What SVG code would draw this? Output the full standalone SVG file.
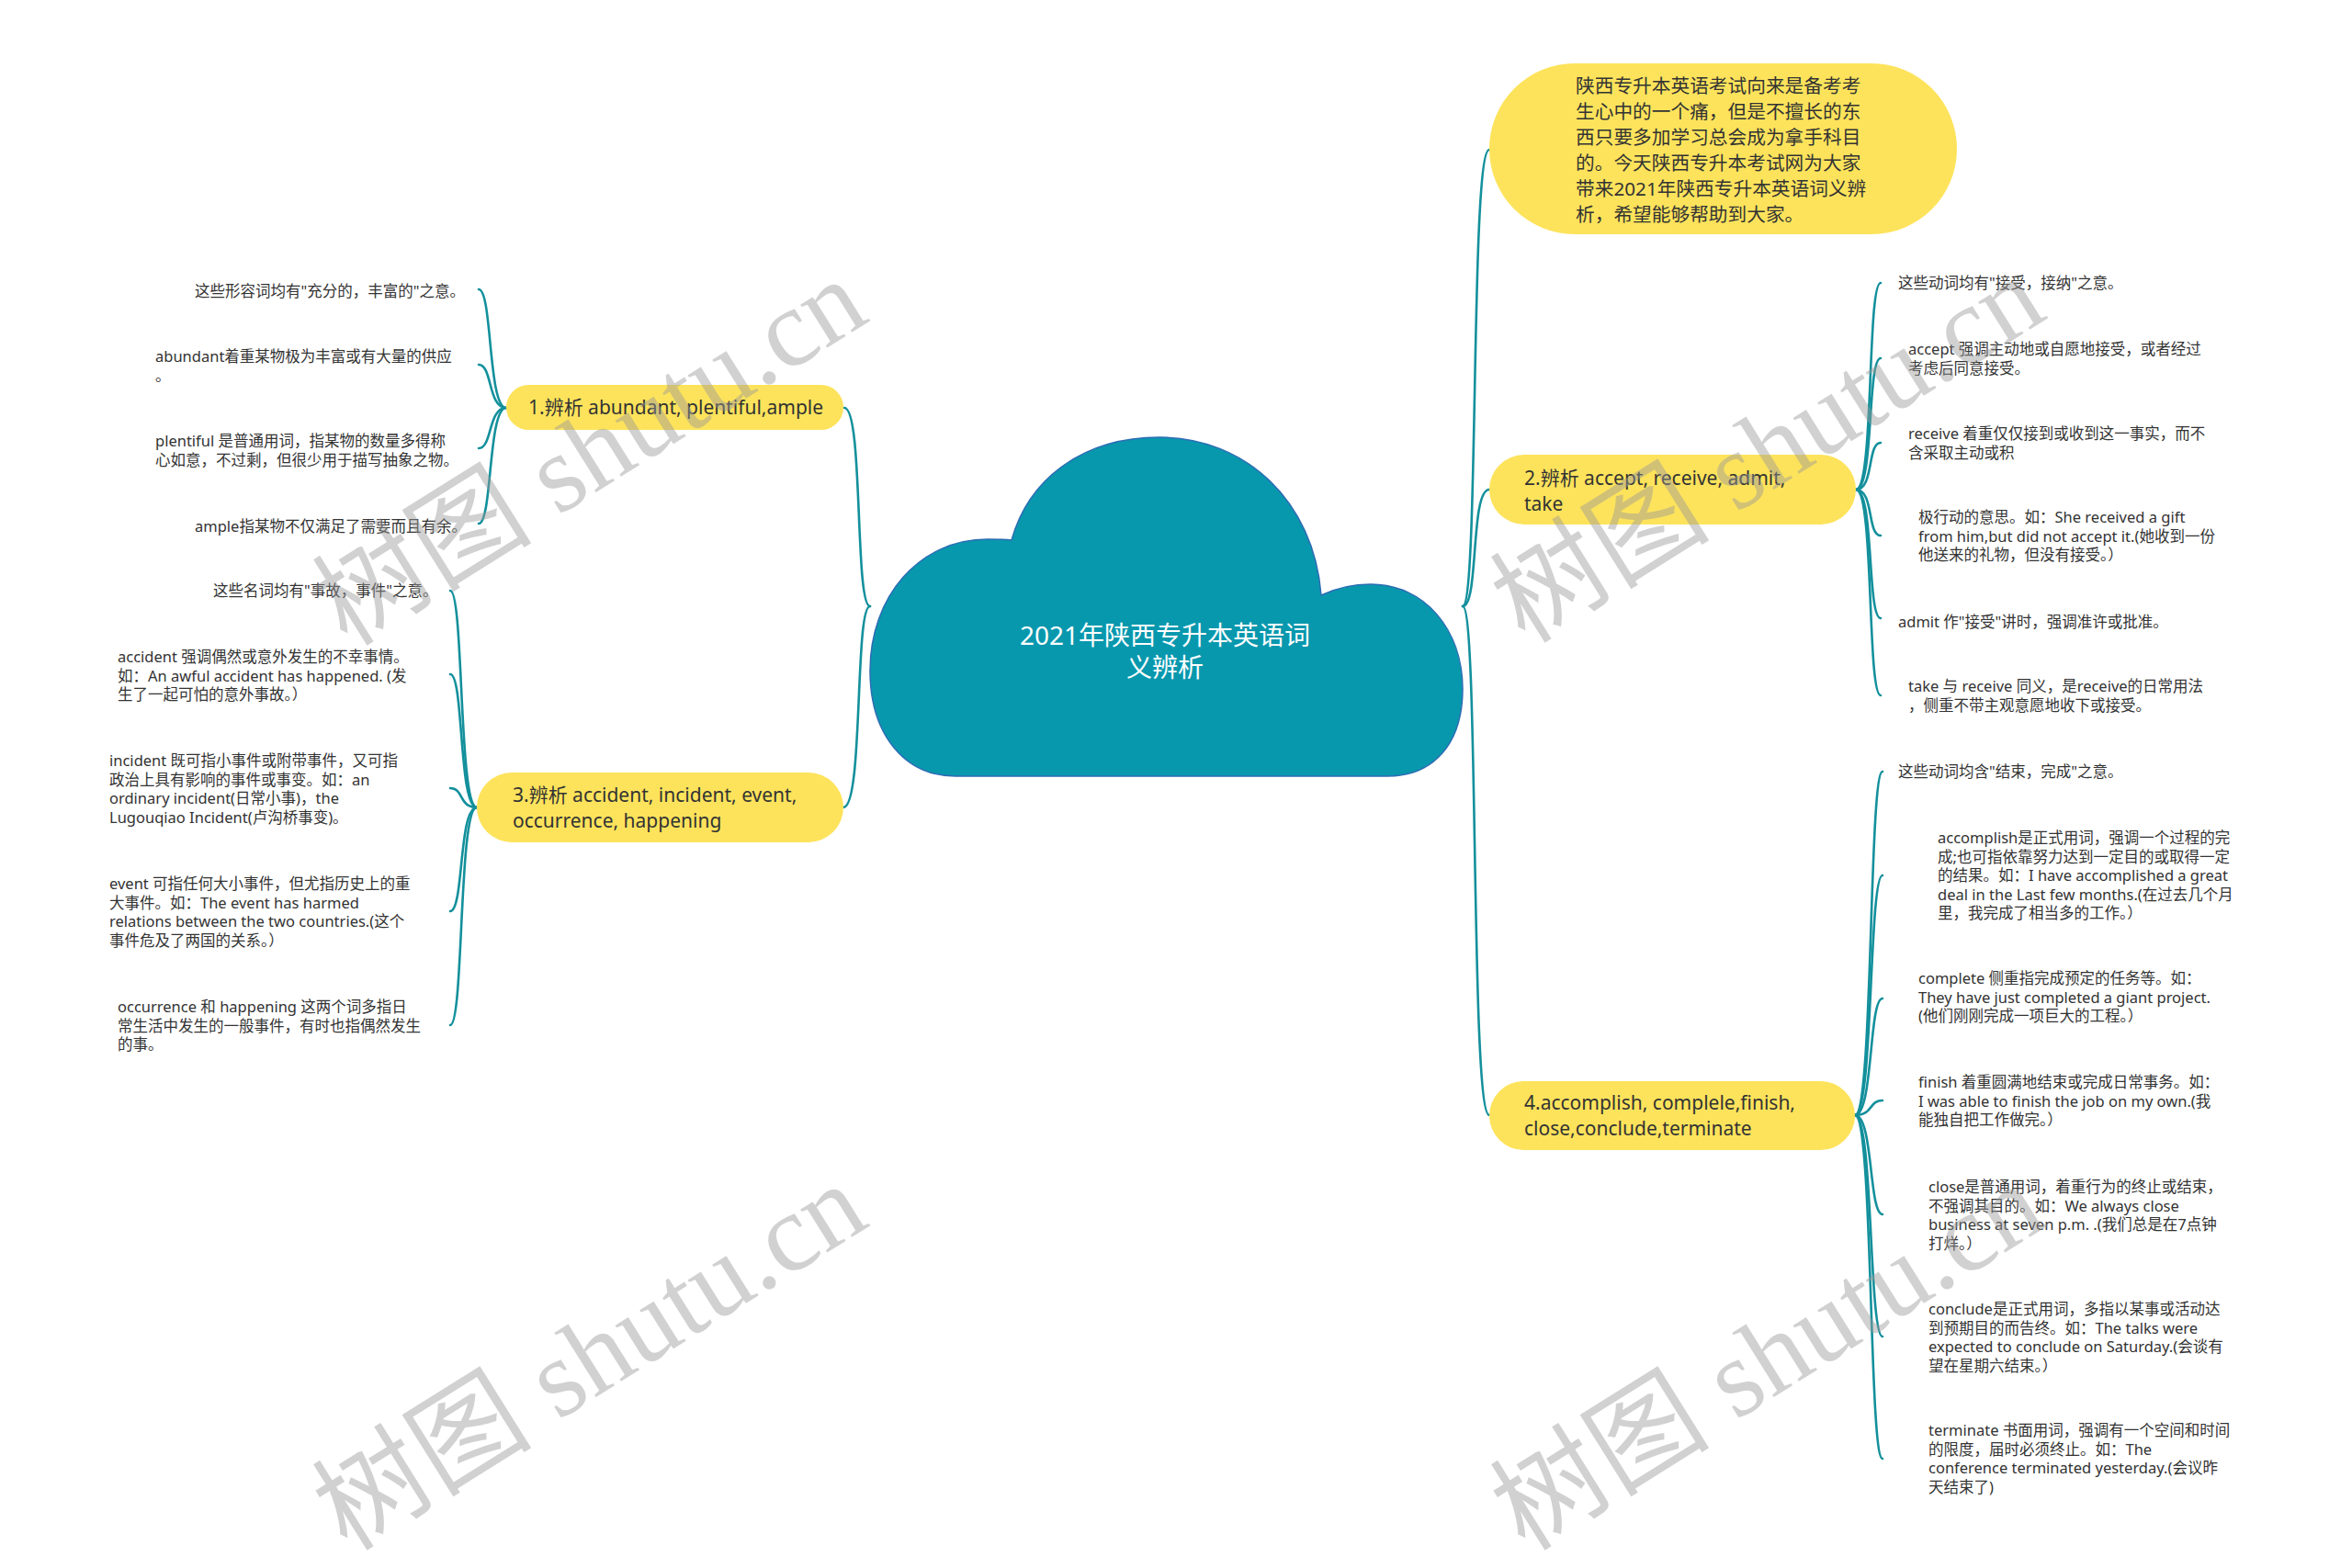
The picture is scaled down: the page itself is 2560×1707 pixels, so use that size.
<svg xmlns="http://www.w3.org/2000/svg" width="2560" height="1707" viewBox="0 0 2560 1707">
<style>
.bg{fill:#ffffff}
.pill{fill:#FDE35B}
.cloud{fill:#0898AE;stroke:#2C6DB3;stroke-width:1.5}
.ln{fill:none;stroke:#13909C;stroke-width:2.6;stroke-linecap:round}
.leaf{font-family:'Noto Sans','Noto Sans CJK SC',sans-serif;font-size:16.5px;fill:#333333}
.topic{font-family:'Noto Sans','Noto Sans CJK SC',sans-serif;font-size:21px;fill:#333333}
.intro{font-family:'Noto Sans','Noto Sans CJK SC',sans-serif;font-size:20.7px;fill:#333333}
.center{font-family:'Noto Sans','Noto Sans CJK SC',sans-serif;font-size:28px;fill:#ffffff}
.wm{font-family:'Liberation Serif','Noto Sans CJK SC',serif;font-size:120px;fill:#9a9a9a;opacity:0.45}
</style>
<rect class="bg" x="0" y="0" width="2560" height="1707"/>

<g id="connectors">
  <path class="ln" d="M947,660 C930,660 940,444 919,444"/>
  <path class="ln" d="M947,660 C930,660 940,879 918,879"/>
  <path class="ln" d="M1592,660 C1610,660 1600,163 1621,163"/>
  <path class="ln" d="M1592,660 C1610,660 1600,533 1621,533"/>
  <path class="ln" d="M1592,660 C1610,660 1600,1214 1621,1214"/>

  <path class="ln" d="M551,444 C531,444 536,315 521,315"/>
  <path class="ln" d="M551,444 C531,444 536,397 521,397"/>
  <path class="ln" d="M551,444 C531,444 536,488 521,488"/>
  <path class="ln" d="M551,444 C531,444 536,570 521,570"/>

  <path class="ln" d="M519,879 C499,879 505,643 490,643"/>
  <path class="ln" d="M519,879 C499,879 505,734 490,734"/>
  <path class="ln" d="M519,879 C499,879 505,858 490,858"/>
  <path class="ln" d="M519,879 C499,879 505,992 490,992"/>
  <path class="ln" d="M519,879 C499,879 505,1116 490,1116"/>

  <path class="ln" d="M2020,533 C2040,533 2032,308 2047,308"/>
  <path class="ln" d="M2020,533 C2040,533 2032,390 2047,390"/>
  <path class="ln" d="M2020,533 C2040,533 2032,482 2047,482"/>
  <path class="ln" d="M2020,533 C2040,533 2032,583 2047,583"/>
  <path class="ln" d="M2020,533 C2040,533 2032,673 2047,673"/>
  <path class="ln" d="M2020,533 C2040,533 2032,757 2047,757"/>

  <path class="ln" d="M2019,1214 C2039,1214 2034,840 2049,840"/>
  <path class="ln" d="M2019,1214 C2039,1214 2034,953 2049,953"/>
  <path class="ln" d="M2019,1214 C2039,1214 2034,1087 2049,1087"/>
  <path class="ln" d="M2019,1214 C2039,1214 2034,1198 2049,1198"/>
  <path class="ln" d="M2019,1214 C2039,1214 2034,1322 2049,1322"/>
  <path class="ln" d="M2019,1214 C2039,1214 2034,1455 2049,1455"/>
  <path class="ln" d="M2019,1214 C2039,1214 2034,1588 2049,1588"/>
</g>

<g id="center">
  <path class="cloud" d="M1101,588 C1120,520 1180,476 1262,476 C1355,476 1430,545 1438,648 C1455,640 1475,636 1492,636 C1550,636 1592,685 1592,750 C1592,810 1560,845 1510,845 L1040,845 C985,845 947,800 947,730 C947,650 1000,587 1075,587 C1085,587 1093,587 1101,588 Z"/>
  <text class="center" text-anchor="middle"><tspan x="1268" y="702">2021年陕西专升本英语词</tspan><tspan x="1268" y="737">义辨析</tspan></text>
</g>

<g id="intro">
  <rect class="pill" x="1621" y="69" width="509" height="186" rx="93"/>
  <text class="intro"><tspan x="1715" y="101">陕西专升本英语考试向来是备考考</tspan><tspan x="1715" y="129">生心中的一个痛，但是不擅长的东</tspan><tspan x="1715" y="157">西只要多加学习总会成为拿手科目</tspan><tspan x="1715" y="185">的。今天陕西专升本考试网为大家</tspan><tspan x="1715" y="213">带来2021年陕西专升本英语词义辨</tspan><tspan x="1715" y="241">析，希望能够帮助到大家。</tspan></text>
</g>

<g id="node1">
  <rect class="pill" x="551" y="419" width="367" height="49" rx="24.5"/>
  <text class="topic" x="575" y="451">1.辨析 abundant, plentiful,ample</text>
</g>
<g id="node2">
  <rect class="pill" x="1621" y="495" width="399" height="76" rx="38"/>
  <text class="topic"><tspan x="1659" y="528">2.辨析 accept, receive, admit,</tspan><tspan x="1659" y="556">take</tspan></text>
</g>
<g id="node3">
  <rect class="pill" x="519" y="841" width="399" height="76" rx="38"/>
  <text class="topic"><tspan x="558" y="873">3.辨析 accident, incident, event,</tspan><tspan x="558" y="901">occurrence, happening</tspan></text>
</g>
<g id="node4">
  <rect class="pill" x="1621" y="1177" width="398" height="75" rx="37.5"/>
  <text class="topic"><tspan x="1659" y="1208">4.accomplish, complele,finish,</tspan><tspan x="1659" y="1236">close,conclude,terminate</tspan></text>
</g>

<g id="leaf1a"><text class="leaf" x="212" y="323">这些形容词均有"充分的，丰富的"之意。</text></g>
<g id="leaf1b"><text class="leaf"><tspan x="169" y="394">abundant着重某物极为丰富或有大量的供应</tspan><tspan x="169" y="414.6">。</tspan></text></g>
<g id="leaf1c"><text class="leaf"><tspan x="169" y="486">plentiful 是普通用词，指某物的数量多得称</tspan><tspan x="169" y="506.6">心如意，不过剩，但很少用于描写抽象之物。</tspan></text></g>
<g id="leaf1d"><text class="leaf" x="212" y="579">ample指某物不仅满足了需要而且有余。</text></g>

<g id="leaf3a"><text class="leaf" x="232" y="649">这些名词均有"事故，事件"之意。</text></g>
<g id="leaf3b"><text class="leaf"><tspan x="128" y="721">accident 强调偶然或意外发生的不幸事情。</tspan><tspan x="128" y="741.6">如：An awful accident has happened. (发</tspan><tspan x="128" y="762.2">生了一起可怕的意外事故。）</tspan></text></g>
<g id="leaf3c"><text class="leaf"><tspan x="119" y="834">incident 既可指小事件或附带事件，又可指</tspan><tspan x="119" y="854.6">政治上具有影响的事件或事变。如：an</tspan><tspan x="119" y="875.2">ordinary incident(日常小事)，the</tspan><tspan x="119" y="895.8">Lugouqiao Incident(卢沟桥事变)。</tspan></text></g>
<g id="leaf3d"><text class="leaf"><tspan x="119" y="968">event 可指任何大小事件，但尤指历史上的重</tspan><tspan x="119" y="988.6">大事件。如：The event has harmed</tspan><tspan x="119" y="1009.2">relations between the two countries.(这个</tspan><tspan x="119" y="1029.8">事件危及了两国的关系。）</tspan></text></g>
<g id="leaf3e"><text class="leaf"><tspan x="128" y="1102">occurrence 和 happening 这两个词多指日</tspan><tspan x="128" y="1122.6">常生活中发生的一般事件，有时也指偶然发生</tspan><tspan x="128" y="1143.2">的事。</tspan></text></g>

<g id="leaf2a"><text class="leaf" x="2066" y="314">这些动词均有"接受，接纳"之意。</text></g>
<g id="leaf2b"><text class="leaf"><tspan x="2077" y="386">accept 强调主动地或自愿地接受，或者经过</tspan><tspan x="2077" y="406.6">考虑后同意接受。</tspan></text></g>
<g id="leaf2c"><text class="leaf"><tspan x="2077" y="478">receive 着重仅仅接到或收到这一事实，而不</tspan><tspan x="2077" y="498.6">含采取主动或积</tspan></text></g>
<g id="leaf2d"><text class="leaf"><tspan x="2088" y="569">极行动的意思。如：She received a gift</tspan><tspan x="2088" y="589.6">from him,but did not accept it.(她收到一份</tspan><tspan x="2088" y="610.2">他送来的礼物，但没有接受。）</tspan></text></g>
<g id="leaf2e"><text class="leaf" x="2066" y="683">admit 作"接受"讲时，强调准许或批准。</text></g>
<g id="leaf2f"><text class="leaf"><tspan x="2077" y="753">take 与 receive 同义，是receive的日常用法</tspan><tspan x="2077" y="773.6">，侧重不带主观意愿地收下或接受。</tspan></text></g>

<g id="leaf4a"><text class="leaf" x="2066" y="846">这些动词均含"结束，完成"之意。</text></g>
<g id="leaf4b"><text class="leaf"><tspan x="2109" y="918">accomplish是正式用词，强调一个过程的完</tspan><tspan x="2109" y="938.6">成;也可指依靠努力达到一定目的或取得一定</tspan><tspan x="2109" y="959.2">的结果。如：I have accomplished a great</tspan><tspan x="2109" y="979.8">deal in the Last few months.(在过去几个月</tspan><tspan x="2109" y="1000.4">里，我完成了相当多的工作。）</tspan></text></g>
<g id="leaf4c"><text class="leaf"><tspan x="2088" y="1071">complete 侧重指完成预定的任务等。如：</tspan><tspan x="2088" y="1091.6">They have just completed a giant project.</tspan><tspan x="2088" y="1112.2">(他们刚刚完成一项巨大的工程。）</tspan></text></g>
<g id="leaf4d"><text class="leaf"><tspan x="2088" y="1184">finish 着重圆满地结束或完成日常事务。如：</tspan><tspan x="2088" y="1204.6">I was able to finish the job on my own.(我</tspan><tspan x="2088" y="1225.2">能独自把工作做完。）</tspan></text></g>
<g id="leaf4e"><text class="leaf"><tspan x="2099" y="1298">close是普通用词，着重行为的终止或结束，</tspan><tspan x="2099" y="1318.6">不强调其目的。如：We always close</tspan><tspan x="2099" y="1339.2">business at seven p.m. .(我们总是在7点钟</tspan><tspan x="2099" y="1359.8">打烊。）</tspan></text></g>
<g id="leaf4f"><text class="leaf"><tspan x="2099" y="1431">conclude是正式用词，多指以某事或活动达</tspan><tspan x="2099" y="1451.6">到预期目的而告终。如：The talks were</tspan><tspan x="2099" y="1472.2">expected to conclude on Saturday.(会谈有</tspan><tspan x="2099" y="1492.8">望在星期六结束。）</tspan></text></g>
<g id="leaf4g"><text class="leaf"><tspan x="2099" y="1563">terminate 书面用词，强调有一个空间和时间</tspan><tspan x="2099" y="1583.6">的限度，届时必须终止。如：The</tspan><tspan x="2099" y="1604.2">conference terminated yesterday.(会议昨</tspan><tspan x="2099" y="1624.8">天结束了)</tspan></text></g>

<g id="watermarks">
  <text class="wm" transform="translate(378,705) rotate(-32)">树图 shutu.cn</text>
  <text class="wm" transform="translate(1660,702) rotate(-32)">树图 shutu.cn</text>
  <text class="wm" transform="translate(378,1690) rotate(-32)">树图 shutu.cn</text>
  <text class="wm" transform="translate(1660,1690) rotate(-32)">树图 shutu.cn</text>
</g>
</svg>
